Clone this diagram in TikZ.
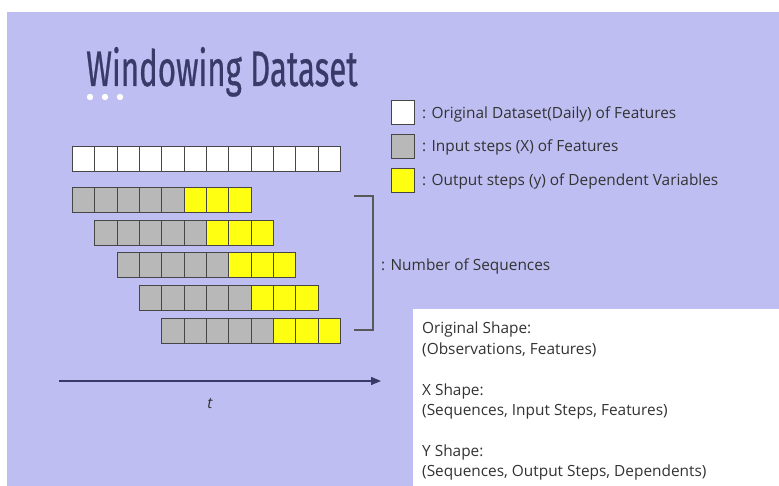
\documentclass[tikz,border=0pt]{standalone}
\usepackage{fontspec}
\usepackage{graphicx}
\setmainfont{Open Sans}
\newfontfamily\titlefont[FakeBold=0.7]{Fira Sans}
\usetikzlibrary{arrows.meta}
\definecolor{lav}{RGB}{190,190,242}
\definecolor{navy}{RGB}{58,58,104}
\definecolor{txt}{RGB}{51,51,51}
\definecolor{cellgray}{RGB}{184,184,184}
\definecolor{cellyel}{RGB}{255,255,17}
\definecolor{edge}{RGB}{70,70,70}
\begin{document}
\begin{tikzpicture}[x=1pt,y=-1pt,
  cell/.style={draw=edge, line width=0.9pt, minimum width=22.33pt, minimum height=25pt, inner sep=0pt, anchor=north west},
  legbox/.style={draw=edge, line width=0.9pt, minimum width=22.5pt, minimum height=24pt, inner sep=0pt, anchor=north west},
  lbl/.style={text=txt, inner sep=0pt, anchor=base west, font=\fontsize{15.4}{20}\selectfont},
  bracketline/.style={draw=edge!90, line width=1.1pt},
  tarrow/.style={draw=navy, line width=1.2pt, -{Triangle[length=10pt,width=8pt]}}]
\useasboundingbox (0,0) rectangle (779,486);
\fill[white] (0,0) rectangle (779,486);
\fill[lav] (7,12) rectangle (779,486);
\fill[white] (413,309) rectangle (779,486);
% title
\node[anchor=base west, inner sep=0pt, text=navy] (title) at (86,86)
  {\titlefont\fontsize{50}{50}\selectfont\scalebox{0.625}[1]{Windowing Dataset}};
\foreach \i/\x in {1/90,2/105,3/120}
  \fill[white] (\x,97) circle (3.2pt);
% original row
\foreach \i in {0,...,11}
  \node[cell, fill=white] (o\i) at ({72+22.33*\i},146) {};
% sequences
\foreach \r in {0,...,4}{
  \foreach \c in {0,...,4}
    \node[cell, fill=cellgray] (s\r c\c) at ({72+22.33*(\r+\c)},{187+32.7*\r}) {};
  \foreach \c in {5,6,7}
    \node[cell, fill=cellyel] (s\r c\c) at ({72+22.33*(\r+\c)},{187+32.7*\r}) {};
}
% bracket
\coordinate (bt) at (354,196);
\coordinate (bb) at (354,330);
\coordinate (bc) at (373,330);
\draw[bracketline] (bt) -| (bc) -- (bb);
\node[lbl] (nseq) at (381,271) {: Number of Sequences};
% legend
\node[legbox, fill=white] (lw) at (391,100) {};
\node[legbox, fill=cellgray] (lg) at (391,134) {};
\node[legbox, fill=cellyel] (ly) at (391,168) {};
\node[lbl] (tw) at (422,119) {: Original Dataset(Daily) of Features};
\node[lbl] (tg) at (422,152) {: Input steps (X) of Features};
\node[lbl] (ty) at (422,186) {: Output steps (y) of Dependent Variables};
% time arrow
\coordinate (ta) at (59,381);
\coordinate (tb) at (381,381);
\draw[tarrow] (ta) -- (tb);
\node[lbl, anchor=base] (tt) at (210,408) {\itshape t};
% shapes
\node[lbl] (sh1) at (422,334) {Original Shape:};
\node[lbl] (sh2) at (422,354) {(Observations, Features)};
\node[lbl] (sh3) at (422,395) {X Shape:};
\node[lbl] (sh4) at (422,415) {(Sequences, Input Steps, Features)};
\node[lbl] (sh5) at (422,456) {Y Shape:};
\node[lbl] (sh6) at (422,476) {(Sequences, Output Steps, Dependents)};
\end{tikzpicture}
\end{document}
